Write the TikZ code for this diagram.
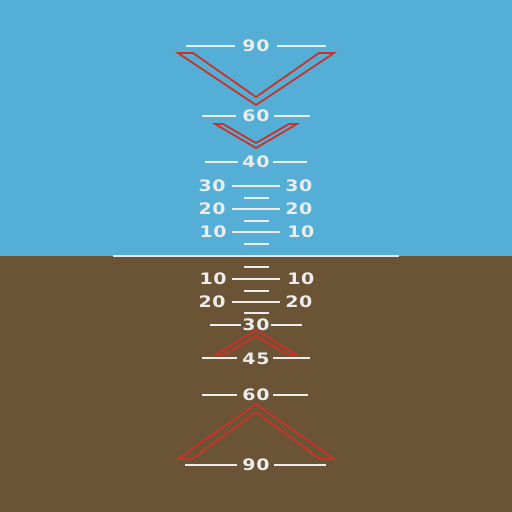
\documentclass[tikz,border=0pt]{standalone}
\usepackage{fontspec}
\newfontfamily\hudfont[FakeStretch=1.2, LetterSpace=4]{DejaVu Sans}
\definecolor{sky}{RGB}{84,174,214}
\definecolor{ground}{RGB}{107,84,54}
\definecolor{ladder}{RGB}{236,236,236}
\definecolor{chevron}{RGB}{200,50,40}

\begin{document}
\begin{tikzpicture}[
    x=0.02cm, y=-0.02cm,
    every node/.style={font=\hudfont\bfseries\fontsize{9}{9}\selectfont, text=ladder, inner sep=0pt},
    rung/.style={draw=ladder, line width=1pt},
    horizon/.style={draw=ladder!95!gray, line width=1.2pt},
    chev/.style={draw=chevron, line width=1pt, line join=miter}
]
    % sky and ground
    \fill[sky] (0,0) rectangle (512,256);
    \fill[ground] (0,256) rectangle (512,512);
    \useasboundingbox (0,0) rectangle (512,512);

    \draw[horizon] (113,255.7) -- (399,255.7);

    % climb
    \node (up90) at (256,46) {90};
    \draw[rung] (186,46) -- (235,46);
    \draw[rung] (277,46) -- (326,46);
    \draw[chev] (178,53) -- (193,53) -- (256,97) -- (319,53) -- (334,53) -- (256,105) -- cycle;

    \node (up60) at (256,116) {60};
    \draw[rung] (202,116) -- (236,116);
    \draw[rung] (274,116) -- (310,116);
    \draw[chev] (215,124) -- (223,124) -- (256,143) -- (289,124) -- (297,124) -- (256,148) -- cycle;

    \node (up40) at (256,162) {40};
    \draw[rung] (205,162) -- (238,162);
    \draw[rung] (273,162) -- (307,162);

    \node (up30l) [anchor=east] at (226,186) {30};
    \node (up30r) [anchor=west] at (285,186) {30};
    \draw[rung] (232,186) -- (280,186);
    \draw[rung] (244,198) -- (269,198);

    \node (up20l) [anchor=east] at (226,209) {20};
    \node (up20r) [anchor=west] at (285,209) {20};
    \draw[rung] (232,209) -- (280,209);
    \draw[rung] (244,221) -- (269,221);

    \node (up10l) [anchor=east] at (227,232) {10};
    \node (up10r) [anchor=west] at (287,232) {10};
    \draw[rung] (232,232) -- (280,232);
    \draw[rung] (244,244) -- (269,244);

    % dive
    \draw[rung] (244,267) -- (269,267);
    \node (dn10l) [anchor=east] at (227,279) {10};
    \node (dn10r) [anchor=west] at (287,279) {10};
    \draw[rung] (232,279) -- (280,279);

    \draw[rung] (244,291) -- (269,291);
    \node (dn20l) [anchor=east] at (226,302) {20};
    \node (dn20r) [anchor=west] at (285,302) {20};
    \draw[rung] (232,302) -- (280,302);

    \draw[rung] (244,313) -- (269,313);
    \node (dn30) at (256,325) {30};
    \draw[rung] (210,325) -- (241,325);
    \draw[rung] (271,325) -- (302,325);
    \draw[chev] (215,355) -- (224,355) -- (256,336) -- (288,355) -- (297,355) -- (256,330) -- cycle;

    \node (dn45) at (256,359) {45};
    \draw[rung] (202,358) -- (237,358);
    \draw[rung] (273,358) -- (310,358);

    \node (dn60) at (256,395) {60};
    \draw[rung] (202,395) -- (237,395);
    \draw[rung] (273,395) -- (308,395);
    \draw[chev] (178,459) -- (192,459) -- (256,412) -- (320,459) -- (334,459) -- (256,404) -- cycle;

    \node (dn90) at (256,465) {90};
    \draw[rung] (185,465) -- (237,465);
    \draw[rung] (274,465) -- (326,465);
\end{tikzpicture}
\end{document}
